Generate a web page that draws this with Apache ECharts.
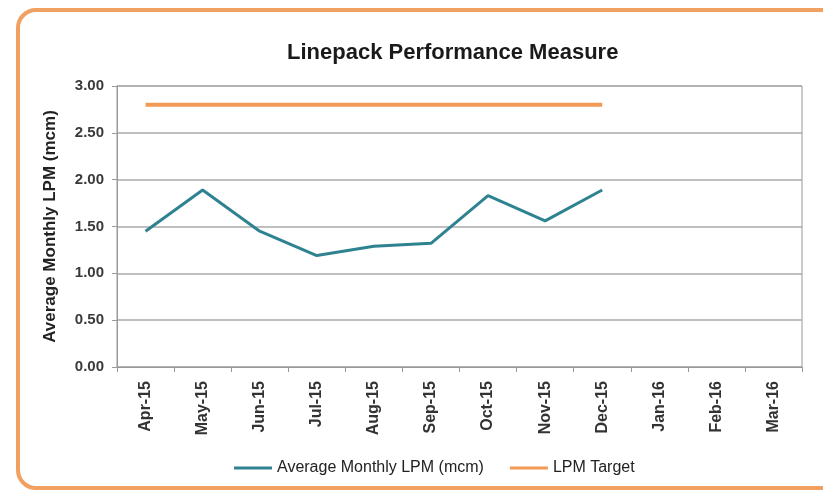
<!DOCTYPE html>
<html>
<head>
<meta charset="utf-8">
<script src="https://cdn.jsdelivr.net/npm/echarts@6/dist/echarts.min.js"></script>
<style>
  html, body { margin: 0; padding: 0; background: #fff; }
  #main { width: 823px; height: 499px; }
</style>
</head>
<body>
<div id="main"></div>
<script>
// 数据
var months = ['Apr-15', 'May-15', 'Jun-15', 'Jul-15', 'Aug-15', 'Sep-15',
              'Oct-15', 'Nov-15', 'Dec-15', 'Jan-16', 'Feb-16', 'Mar-16'];
var avgLpm = [1.45, 1.89, 1.45, 1.19, 1.29, 1.32, 1.83, 1.56, 1.89, null, null, null];
var lpmTarget = [2.80, 2.80, 2.80, 2.80, 2.80, 2.80, 2.80, 2.80, 2.80, null, null, null];

var myChart = echarts.init(document.getElementById('main'));
var font = '"Liberation Sans Narrow", "Liberation Sans", sans-serif';

var option = {
    animation: false,
    textStyle: { fontFamily: font },
    graphic: [{
        type: 'rect',
        shape: { x: 18, y: 10, width: 850, height: 478, r: 18 },
        style: { fill: '#fff', stroke: '#F0A060', lineWidth: 4 },
        z: -10
    }],
    title: {
        text: 'Linepack Performance Measure',
        left: 282,
        top: 37,
        textStyle: { fontFamily: font, fontSize: 22, fontWeight: 'bold', color: '#1a1a1a' }
    },
    legend: {
        bottom: 18,
        left: 229,
        itemWidth: 38,
        itemHeight: 3,
        itemGap: 26,
        icon: 'rect',
        textStyle: { fontFamily: font, fontSize: 16, color: '#222' },
        data: ['Average Monthly LPM (mcm)', 'LPM Target']
    },
    grid: {
        left: 117, right: 21, top: 86, bottom: 132,
        show: true, borderColor: '#999', borderWidth: 1
    },
    xAxis: {
        type: 'category',
        data: months,
        boundaryGap: true,
        axisLine: { lineStyle: { color: '#999' } },
        axisTick: { show: true, length: 5, alignWithLabel: false, lineStyle: { color: '#999' } },
        axisLabel: { rotate: 90, interval: 0, margin: 14, fontSize: 16, fontWeight: 'bold', color: '#333' }
    },
    yAxis: {
        type: 'value',
        min: 0, max: 3, interval: 0.5,
        name: 'Average Monthly LPM (mcm)',
        nameLocation: 'middle',
        nameGap: 58,
        nameTextStyle: { fontFamily: font, fontSize: 17, fontWeight: 'bold', color: '#222' },
        axisLine: { show: true, lineStyle: { color: '#999' } },
        axisTick: { show: true, length: 5, lineStyle: { color: '#999' } },
        splitLine: { lineStyle: { color: '#aaa', width: 1.5 } },
        axisLabel: {
            fontSize: 15, fontWeight: 'bold', color: '#3a3a3a', margin: 13,
            formatter: function (v) { return v.toFixed(2); }
        }
    },
    series: [
        {
            name: 'Average Monthly LPM (mcm)',
            type: 'line',
            data: avgLpm,
            symbol: 'none',
            itemStyle: { color: '#2F8391' },
            lineStyle: { color: '#2F8391', width: 3 }
        },
        {
            name: 'LPM Target',
            type: 'line',
            data: lpmTarget,
            symbol: 'none',
            itemStyle: { color: '#F39A55' },
            lineStyle: { color: '#F39A55', width: 4 }
        }
    ]
};
myChart.setOption(option);
</script>
</body>
</html>
